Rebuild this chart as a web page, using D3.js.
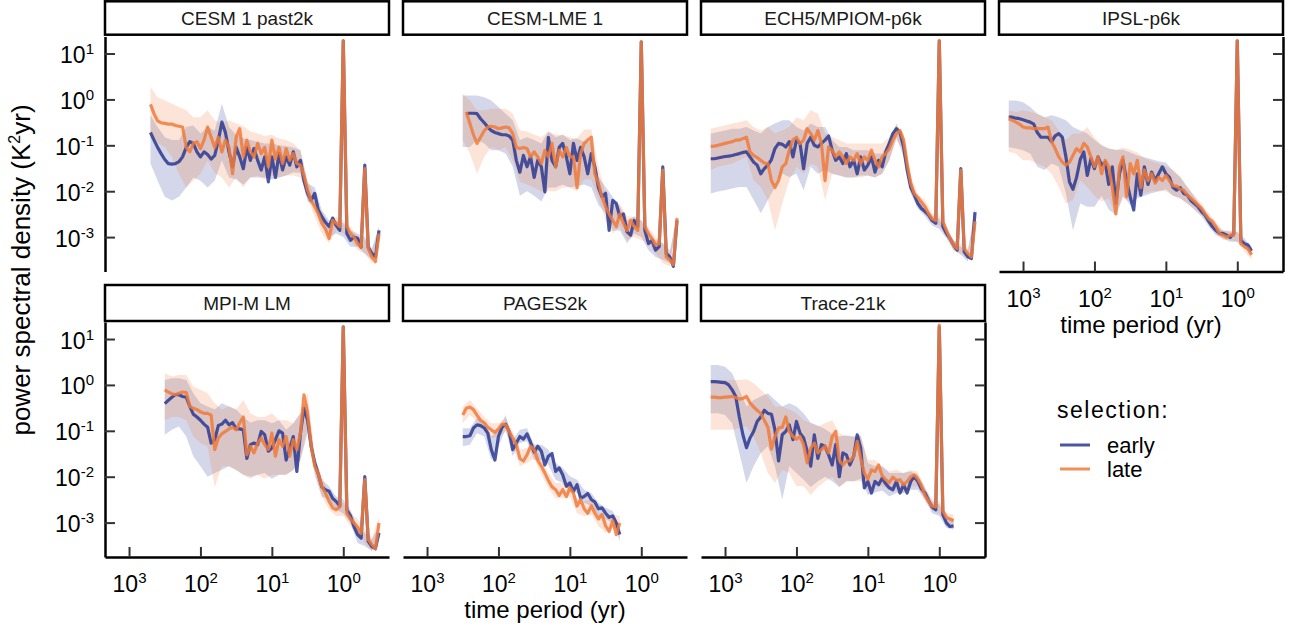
<!DOCTYPE html>
<html><head><meta charset="utf-8">
<script src="https://cdn.jsdelivr.net/npm/d3@7"></script>
<style>
body{margin:0;background:#fff;}
svg{display:block;font-family:"Liberation Sans",Arial,Helvetica,sans-serif;}
</style></head><body>
<svg id="chart" width="1297" height="636"></svg>
<script>
const _ = null;
const facets = ["CESM 1 past2k","CESM-LME 1","ECH5/MPIOM-p6k","IPSL-p6k","MPI-M LM","PAGES2k","Trace-21k"];
const seriesNames = ["early","late"];
const xTicks = [1000,100,10,1];
const yTicks = [10,1,0.1,0.01,0.001];

// time period (yr) of the spectral estimates
const period = [1585,1413,1259,1122,1000,891,794,708,631,562,
501,447,398,355,316,282,251,224,200,178,
158,141,126,112,100,89.1,79.4,70.8,63.1,56.2,
50.1,44.7,39.8,35.5,31.6,28.2,25.1,22.4,20.0,17.8,
15.8,14.1,12.6,11.2,10.0,8.91,7.94,7.08,6.31,5.62,
5.01,4.47,3.98,3.55,3.16,2.82,2.51,2.24,2.0,1.78,
1.58,1.41,1.26,1.12,1.0,0.891,0.794,0.708,0.631,0.562,
0.5,0.447,0.398,0.355,0.316];
// time period (yr) of the confidence band estimates
const ribbonPeriod = [1585,1259,1000,794,631,501,398,316,251,200,
158,126,100,79.4,63.1,50.1,39.8,31.6,25.1,20.0,
15.8,12.6,10.0,7.94,6.31,5.01,3.98,3.16,2.51,2.0,
1.58,1.26,1.0,0.794,0.631,0.5,0.398,0.316];

// ---- CESM 1 past2k ----
const cesm1_early = [_,_,_,_,_,_,_,_,_,_,
.19,.13,.09,.066,.049,.04,.039,.04,.044,.056,
.09,.12,.11,.072,.056,.072,.063,.05,.06,.13,
.32,.19,.072,.034,.09,.056,.031,.09,.047,.085,
.047,.029,.056,.016,.056,.02,.066,.029,.056,.037,
.072,.034,.047,.017,.009,.0063,.009,.0039,.0028,.0021,
.0017,.0026,.0018,.0014,19,.0012,.00085,.001,.00094,.0006,
.037,.0006,.00044,.00037,.0014];
const cesm1_late = [_,_,_,_,_,_,_,_,_,_,
.78,.49,.34,.31,.3,.29,.29,.27,.26,.25,
.09,.072,.11,.12,.085,.13,.25,.15,.09,.15,
.072,.13,.09,.024,.15,.23,.056,.13,.072,.056,
.11,.066,.09,.034,.13,.05,.09,.04,.085,.047,
.066,.04,.037,.022,.0105,.0063,.0046,.0032,.002,.0015,
.00093,.0023,.002,.0017,19,.0017,.0012,.001,.00072,.0006,
.031,.00056,.00037,.00029,.0012];
const cesm1_early_lo = [_,_,_,_,_,.04,.017,.0076,.0063,.0076,
.012,.02,.017,.012,.017,.047,.02,.018,.014,.02,
.02,.02,.018,.02,.022,.026,.025,.006,.005,.002,
.001,.0012,.001,.00062,.00062,.00044,.00032,.0012];
const cesm1_early_hi = [_,_,_,_,_,.45,.25,.15,.13,.13,
.25,.27,.18,.25,.21,.8,.25,.17,.14,.13,
.12,.11,.11,.1,.095,.09,.078,.015,.012,.0039,
.0023,.0023,.002,.0014,.0012,.001,.00057,.0017];
const cesm1_late_lo = [_,_,_,_,_,.18,.11,.092,.056,.024,
.012,.017,.024,.047,.025,.02,.012,.02,.012,.02,
.022,.018,.022,.02,.022,.022,.02,.0064,.0028,.0012,
.00073,.0014,.0012,.00086,.00052,.00044,.00027,.001];
const cesm1_late_hi = [_,_,_,_,_,1.86,1.12,.95,.8,.68,
.58,.41,.41,.58,.35,.3,.35,.3,.26,.2,
.18,.16,.17,.14,.13,.11,.078,.0173,.0075,.0033,
.002,.0028,.0023,.0017,.001,.00086,.00052,.0014];

// ---- CESM-LME 1 ----
const lme_early = [_,_,_,_,_,_,_,_,_,_,
_,_,_,_,_,.49,.5,.5,.49,.38,
.31,.25,.21,.19,.18,.17,.17,.16,.13,.047,
.026,.06,.034,.056,.02,.047,.034,.0097,.15,.047,
.034,.09,.11,.056,.024,.11,.047,.09,.056,.024,
.066,.034,.012,.0076,.009,.0014,.0063,.0054,.0028,.0032,
.0013,.0011,.0023,.0017,18,.0014,.00072,.00085,.00052,.00062,
.034,.00044,.00037,.00023,.0023];
const lme_late = [_,_,_,_,_,_,_,_,_,_,
_,_,_,_,_,.53,.3,.17,.11,.15,
.21,.25,.26,.25,.23,.24,.25,.24,.18,.09,
.085,.09,.085,.056,.072,.056,.04,.078,.056,.11,
.034,.078,.056,.09,.056,.056,.012,.066,.11,.13,
.15,.024,.015,.0076,.0046,.0032,.0023,.0017,.0032,.002,
.0014,.0023,.0017,.0014,18,.0017,.0012,.00093,.00067,.00072,
.029,.00037,.00032,.00025,.0026];
const lme_early_lo = [_,_,_,_,_,_,_,.092,.092,.13,
.11,.078,.078,.066,.034,.008,.01,.008,.006,.012,
.012,.014,.012,.013,.014,.012,.005,.0033,.0014,.0014,
.00073,.0012,.001,.00052,.00037,.00032,.00027,.002];
const lme_early_hi = [_,_,_,_,_,_,_,1.22,1.22,1.22,
1.12,.95,.68,.49,.35,.13,.15,.13,.11,.2,
.15,.17,.13,.14,.12,.12,.0205,.0124,.0075,.0046,
.0023,.0028,.0023,.0012,.00086,.00073,.00052,.0028];
const lme_late_lo = [_,_,_,_,_,_,_,.13,.066,.024,
.056,.092,.078,.092,.047,.016,.014,.012,.01,.01,
.01,.012,.012,.01,.018,.018,.007,.0023,.0012,.0017,
.00086,.001,.00086,.00073,.00044,.00027,.00023,.002];
const lme_late_hi = [_,_,_,_,_,_,_,1.33,.95,.58,
.58,.63,.63,.63,.49,.21,.2,.17,.15,.2,
.17,.17,.15,.14,.22,.22,.034,.0089,.0046,.0054,
.0028,.0028,.0023,.0017,.001,.00073,.00044,.003];

// ---- ECH5/MPIOM-p6k ----
const ech5_early = [.051,.051,.053,.055,.057,.058,.06,.063,.066,.07,
.072,.056,.043,.037,.024,.031,.037,.049,.085,.11,
.105,.092,.12,.056,.13,.11,.031,.11,.15,.1,
.092,.11,.13,.16,.078,.047,.056,.04,.066,.034,
.047,.024,.056,.029,.037,.056,.026,.047,.034,.072,
.11,.18,.23,.19,.092,.029,.012,.0083,.0054,.0042,
.0036,.003,.0023,.002,19,.0017,.0012,.00093,.00067,.00052,
.031,.00048,.00037,.00034,.0035];
const ech5_late = [.095,.096,.1,.105,.11,.115,.12,.13,.13,.14,
.15,.072,.06,.054,.047,.041,.04,.017,.012,.017,
.034,.04,.078,.13,.15,.11,.13,.23,.18,.13,
.21,.11,.017,.092,.078,.056,.072,.056,.04,.056,
.047,.066,.04,.056,.047,.078,.047,.034,.056,.066,
.085,.13,.18,.21,.13,.04,.015,.0089,.0073,.0058,
.0046,.0032,.0025,.0023,19,.0022,.0014,.00093,.00067,.00056,
.029,.00056,.00044,.00037,.0022];
const ech5_early_lo = [.0089,.0098,.0105,.0115,.0124,.0124,.0064,.0033,.0064,.0124,
.024,.0205,.024,.0105,.034,.024,.029,.024,.022,.02,
.02,.022,.022,.02,.024,.047,.15,.056,.0089,.0042,
.0028,.0018,.0015,.00093,.00052,.00041,.00029,.0028];
const ech5_early_hi = [.18,.195,.21,.23,.23,.25,.21,.18,.25,.3,
.35,.35,.25,.21,.3,.25,.25,.13,.092,.092,
.078,.078,.078,.066,.066,.13,.3,.13,.0173,.0069,
.0046,.003,.0025,.0015,.00086,.00062,.00048,.0046];
const ech5_late_lo = [.029,.034,.037,.04,.047,.056,.0173,.0124,.0064,.0014,
.0054,.0173,.034,.024,.04,.034,.0064,.024,.022,.02,
.02,.02,.022,.02,.024,.047,.13,.078,.0105,.0054,
.0033,.002,.0018,.0011,.00052,.00044,.00034,.0017];
const ech5_late_hi = [.23,.25,.27,.3,.32,.35,.25,.21,.25,.18,
.21,.25,.41,.35,.58,.49,.18,.15,.13,.11,
.11,.11,.11,.11,.11,.15,.27,.18,.0205,.0089,
.0064,.0033,.003,.0018,.00086,.00073,.00057,.0028];

// ---- IPSL-p6k ----
const ipsl_early = [.41,.41,.39,.38,.36,.34,.32,.29,.19,.15,
.15,.15,.12,.16,.18,.15,.056,.016,.011,.02,
.049,.072,.022,.051,.031,.056,.037,.043,.014,.034,
.0054,.024,.047,.017,.0076,.0039,.024,.0082,.034,.014,
.026,.017,.024,.034,.024,.02,.012,.0105,.012,.0089,
.0082,.0063,.0054,.0046,.0036,.003,.0022,.0017,.0014,.0012,
.0012,.0011,.00098,.0012,19,.00085,.00072,.00067,.0005,_,
_,_,_,_,_];
const ipsl_late = [.38,.35,.32,.29,.25,.24,.24,.23,.23,.23,
.23,.25,.12,.085,.056,.043,.037,.043,.06,.085,
.072,.11,.092,.056,.034,.056,.024,.047,.034,.012,
.0032,.034,.056,.0076,.04,.024,.047,.012,.029,.017,
.024,.015,.02,.017,.022,.017,.013,.013,.011,.0105,
.0082,.007,.006,.005,.0042,.0032,.0025,.0022,.0017,.0012,
.0011,.001,.0011,.0011,19,.00072,.00062,.00056,.00041,_,
_,_,_,_,_];
const ipsl_early_lo = [.092,.085,.078,.066,.034,.029,.04,.034,.0089,.0014,
.0054,.0046,.0046,.008,.004,.003,.008,.005,.007,.008,
.009,.01,.011,.008,.007,.0054,.0039,.0028,.0017,.0011,
.00093,.00079,.00079,.00057,.00041,_,_,_];
const ipsl_early_hi = [.95,.95,.87,.68,.49,.41,.45,.41,.35,.25,
.21,.18,.13,.1,.085,.08,.08,.07,.06,.055,
.05,.045,.042,.028,.0205,.0124,.0075,.0046,.0028,.0018,
.0014,.0013,.0013,.00093,.00062,_,_,_];
const ipsl_late_lo = [.072,.066,.047,.047,.04,.034,.024,.0124,.0054,.0064,
.0173,.0124,.008,.006,.007,.003,.007,.006,.008,.009,
.01,.01,.01,.008,.007,.0054,.0042,.003,.002,.0013,
.00086,.00086,.00079,.00048,.00032,_,_,_];
const ipsl_late_hi = [.58,.53,.58,.53,.49,.41,.35,.21,.13,.18,
.18,.25,.15,.1,.085,.078,.09,.08,.07,.052,
.045,.04,.035,.029,.0205,.0124,.0082,.0054,.0033,.0022,
.0014,.0014,.0013,.00079,.00052,_,_,_];

// ---- MPI-M LM ----
const mpi_early = [_,_,_,_,_,_,_,_,_,_,
_,_,_,_,.39,.46,.54,.61,.61,.56,
.54,.34,.23,.2,.17,.14,.12,.054,.064,.13,
.14,.17,.135,.15,.11,.11,.105,.025,.05,.054,
.05,.097,.082,.036,.042,.064,.1,.089,.023,.042,
.075,.013,.089,.31,.17,.046,.02,.0115,.006,.0052,
.0048,.0034,.0029,.0023,18.5,.0019,.0014,.00082,.00055,.00046,
.01,.00039,.0003,.00027,.0006];
const mpi_late = [_,_,_,_,_,_,_,_,_,_,
_,_,_,_,.78,.7,.64,.61,.66,.7,
.68,.34,.31,.29,.26,.24,.24,.22,.039,.07,
.086,.097,.11,.12,.105,.15,.2,.03,.046,.033,
.054,.07,.05,.039,.089,.028,.064,.046,.075,.028,
.064,.039,.089,.61,.24,.046,.017,.0115,.0062,.0044,
.0029,.0021,.0019,.0022,18.5,.0016,.0012,.00098,.0008,.00058,
.0086,.00043,.00033,.00027,.00098];
const mpi_early_lo = [_,_,_,_,_,_,_,.082,.105,.124,
.075,.028,.0168,.01,.012,.0142,.0168,.014,.011,.01,
.011,.012,.009,.011,.011,.014,.023,.089,.012,.0037,
.0032,.0019,.0016,.00098,.00036,.00031,.00024,.0005];
const mpi_early_hi = [_,_,_,_,_,_,_,1.28,1.4,1.4,
1.28,.66,.4,.34,.29,.4,.34,.29,.2,.15,
.17,.17,.147,.17,.105,.147,.24,.4,.028,.0086,
.0062,.0037,.0032,.0019,.00083,.0006,.00043,.00083];
const mpi_late_lo = [_,_,_,_,_,_,_,.17,.2,.2,
.17,.075,.054,.046,.006,.0168,.0168,.014,.011,.009,
.011,.009,.011,.011,.011,.014,.023,.124,.0102,.0037,
.0019,.0014,.0014,.00083,.00055,.00036,.00024,.00077];
const mpi_late_hi = [_,_,_,_,_,_,_,1.8,1.52,1.65,
1.65,.92,.78,.66,.4,.29,.34,.29,.47,.24,
.2,.2,.24,.17,.17,.147,.24,.66,.028,.0102,
.0044,.0027,.0027,.0016,.0012,.0007,.00046,.0013];

// ---- PAGES2k ----
const pages_early = [_,_,_,_,_,_,_,_,_,_,
_,_,_,_,.075,.075,.078,.115,.135,.13,
.115,.089,.039,.023,.075,.12,.14,.097,.039,.054,
.075,.066,.086,.056,.034,.046,.036,.018,.028,.032,
.013,.0155,.011,.0062,.0073,.0048,.0067,.0034,.0037,.0043,
.0032,.0028,.002,.0021,.0016,.0013,.0014,.00098,.00055,_,
_,_,_,_,_,_,_,_,_,_,
_,_,_,_,_];
const pages_late = [_,_,_,_,_,_,_,_,_,_,
_,_,_,_,.22,.31,.33,.29,.22,.17,
.15,.12,.105,.092,.11,.14,.135,.097,.07,.05,
.025,.022,.03,.046,.039,.023,.017,.012,.0083,.006,
.0052,.0039,.0052,.0037,.0057,.0044,.0023,.0032,.002,.0016,
.0023,.0016,.0012,.0015,.00085,.00064,.0011,.00055,.00098,_,
_,_,_,_,_,_,_,_,_,_,
_,_,_,_,_];
const pages_early_lo = [_,_,_,_,_,_,_,.046,.05,.089,
.075,.023,.046,.105,.028,.054,.059,.023,.023,.018,
.0086,.0073,.0048,.0044,.0027,.0023,.0014,.0012,.00098,.00039,
_,_,_,_,_,_,_,_];
const pages_early_hi = [_,_,_,_,_,_,_,.114,.114,.19,
.16,.075,.105,.22,.064,.105,.114,.05,.05,.039,
.0198,.0154,.0102,.0086,.0052,.0044,.0027,.0021,.0018,.00077,
_,_,_,_,_,_,_,_];
const pages_late_lo = [_,_,_,_,_,_,_,.147,.22,.16,
.105,.069,.075,.097,.046,.0168,.0198,.025,.011,.0057,
.0034,.0034,.0037,.0016,.0014,.0015,.00083,.0006,.00077,.0007,
_,_,_,_,_,_,_,_];
const pages_late_hi = [_,_,_,_,_,_,_,.34,.47,.31,
.2,.147,.147,.19,.097,.039,.042,.054,.023,.012,
.0073,.0073,.0079,.0034,.0029,.0032,.0016,.0013,.0015,.0014,
_,_,_,_,_,_,_,_];

// ---- Trace-21k ----
const trace_early = [1.18,1.18,1.16,1.14,1.12,1.0,.78,.56,.2,.082,
.043,.07,.097,.16,.2,.28,.24,.23,.105,.022,
.082,.097,.135,.064,.16,.089,.07,.036,.017,.082,
.025,.05,.046,.03,.018,.05,.01,.033,.03,.018,
.028,.082,.042,.0057,.0079,.0044,.0079,.0067,.0093,.007,
.0057,.0052,.0079,.0044,.0067,.0044,.0079,.01,.0079,.0054,
.0044,.003,.0022,.0019,18.5,.0015,.00098,.00082,.00085,_,
_,_,_,_,_];
const trace_late = [.54,.54,.53,.53,.54,.55,.56,.53,.49,.51,
.56,.41,.33,.28,.24,.17,.12,.04,.075,.115,
.12,.2,.097,.075,.066,.075,.05,.02,.042,.054,
.033,.039,.046,.033,.075,.097,.023,.018,.022,.022,
.028,.059,.025,.012,.0089,.014,.013,.018,.0105,.0086,
.0075,.0098,.0083,.0086,.0067,.0079,.01,.011,.0089,.0064,
.0039,.0029,.0023,.0022,20,.0018,.0013,.0012,.0011,_,
_,_,_,_,_];
const trace_early_lo = [.24,.24,.22,.147,.033,.0073,.0168,.033,.046,.0168,
.0032,.0168,.012,.0086,.006,.008,.01,.008,.006,.008,
.008,.009,.004,.0045,.005,.0037,.0044,.0044,.0052,.0052,
.0032,.0016,.0014,.00077,.0007,_,_,_];
const trace_early_hi = [2.72,2.72,2.5,1.8,.78,.34,.47,.56,.66,.47,
.34,.4,.34,.24,.15,.13,.11,.085,.075,.08,
.075,.08,.02,.0168,.0168,.012,.012,.012,.013,.011,
.0057,.0029,.0025,.0013,.0012,_,_,_];
const trace_late_lo = [.105,.105,.105,.105,.114,.124,.075,.033,.012,.0073,
.0142,.012,.0062,.0062,.004,.006,.008,.01,.006,.008,
.008,.008,.005,.0062,.0062,.0052,.0052,.0044,.0062,.0062,
.0029,.0018,.0016,.00098,.0009,_,_,_];
const trace_late_hi = [1.28,1.28,1.28,1.28,1.28,1.33,1.09,.78,.56,.34,
.34,.29,.24,.17,.147,.124,.147,.17,.089,.075,
.075,.075,.023,.023,.0168,.013,.0142,.012,.0142,.013,
.0057,.0032,.0029,.0016,.0015,_,_,_];

const panels = [
  {name:facets[0], early:cesm1_early, late:cesm1_late, eLo:cesm1_early_lo, eHi:cesm1_early_hi, lLo:cesm1_late_lo, lHi:cesm1_late_hi},
  {name:facets[1], early:lme_early, late:lme_late, eLo:lme_early_lo, eHi:lme_early_hi, lLo:lme_late_lo, lHi:lme_late_hi},
  {name:facets[2], early:ech5_early, late:ech5_late, eLo:ech5_early_lo, eHi:ech5_early_hi, lLo:ech5_late_lo, lHi:ech5_late_hi},
  {name:facets[3], early:ipsl_early, late:ipsl_late, eLo:ipsl_early_lo, eHi:ipsl_early_hi, lLo:ipsl_late_lo, lHi:ipsl_late_hi},
  {name:facets[4], early:mpi_early, late:mpi_late, eLo:mpi_early_lo, eHi:mpi_early_hi, lLo:mpi_late_lo, lHi:mpi_late_hi},
  {name:facets[5], early:pages_early, late:pages_late, eLo:pages_early_lo, eHi:pages_early_hi, lLo:pages_late_lo, lHi:pages_late_hi},
  {name:facets[6], early:trace_early, late:trace_late, eLo:trace_early_lo, eHi:trace_early_hi, lLo:trace_late_lo, lHi:trace_late_hi}
];

// ---- layout / style ----
const colors = {early:"#2A3890", late:"#F07A3A"};
const colLeft = [105, 403, 701, 999];
const rowTop = [36.5, 322];
const stripY = [1.3, 285];
const stripH = [33.4, 36];
const pw = 284, ph = 235;
const svg = d3.select("#chart");
const defs = svg.append("defs");

const x = d3.scaleLog().domain([2170, 0.229]).range([0, pw]);
const y = d3.scaleLog().domain([1.78e-4, 23.5]).range([ph, 0]);

const line = d3.line().defined(d => d.v != null).x(d => x(d.p)).y(d => y(d.v));
const area = d3.area().defined(d => d.lo != null && d.hi != null)
  .x(d => x(d.p)).y0(d => y(d.lo)).y1(d => y(d.hi));

function styleAxis(a){
  a.attr("font-family", null).attr("font-size", 23);
  a.select(".domain").attr("stroke", "#000").attr("stroke-width", 2.5);
  a.selectAll(".tick line").attr("stroke", "#333").attr("stroke-width", 2);
}
function supLabels(sel){
  sel.each(function(d){
    const t = d3.select(this);
    const e = Math.round(Math.log10(d));
    t.text(null).attr("fill", "#000");
    t.append("tspan").text("10");
    t.append("tspan").attr("dy", -9).attr("font-size", 15).text(String(e));
  });
}

panels.forEach((pn, i) => {
  const c = i % 4, r = Math.floor(i / 4);
  const g = svg.append("g").attr("transform", `translate(${colLeft[c]},${rowTop[r]})`);
  const cid = "clip" + i;
  defs.append("clipPath").attr("id", cid).append("rect")
    .attr("x", 0).attr("y", 0).attr("width", pw).attr("height", ph);
  const plot = g.append("g").attr("clip-path", `url(#${cid})`);

  const ribData = (lo, hi) => ribbonPeriod.map((p, k) => ({p, lo: lo[k], hi: hi[k]}));
  const lineData = s => period.map((p, k) => ({p, v: s[k]}));

  plot.append("path").datum(ribData(pn.eLo, pn.eHi)).attr("d", area)
    .attr("fill", colors.early).attr("fill-opacity", 0.2);
  plot.append("path").datum(ribData(pn.lLo, pn.lHi)).attr("d", area)
    .attr("fill", colors.late).attr("fill-opacity", 0.2);
  [["early", pn.early], ["late", pn.late]].forEach(([k, s]) => {
    plot.append("path").datum(lineData(s)).attr("d", line)
      .attr("fill", "none").attr("stroke", colors[k]).attr("stroke-width", 3.2)
      .attr("stroke-opacity", 0.85).attr("stroke-linejoin", "round");
  });

  // strip
  const sy = stripY[r] - rowTop[r];
  g.append("rect").attr("x", 0).attr("y", sy).attr("width", pw).attr("height", stripH[r])
    .attr("fill", "#fff").attr("stroke", "#000").attr("stroke-width", 2.5);
  g.append("text").attr("x", pw / 2).attr("y", sy + stripH[r] / 2 + 6.5)
    .attr("text-anchor", "middle").attr("font-size", 19).attr("fill", "#1a1a1a").text(pn.name);

  // axes
  if (c === 0) {
    g.append("g").call(d3.axisLeft(y).tickValues(yTicks).tickSize(-10).tickSizeOuter(0))
      .call(styleAxis)
      .call(a => a.selectAll(".tick text").attr("x", -11).attr("dy", null).attr("y", 9).call(supLabels));
  }
  if (i >= 3) {
    g.append("g").attr("transform", `translate(0,${ph})`)
      .call(d3.axisBottom(x).tickValues(xTicks).tickSize(-10).tickSizeOuter(0))
      .call(styleAxis)
      .call(a => a.selectAll(".tick text").attr("y", 35).attr("dy", null).call(supLabels));
  }
  if (i === 3 || i === 6) {
    g.append("g").attr("transform", `translate(${pw},0)`)
      .call(d3.axisRight(y).tickValues(yTicks).tickSize(-10).tickSizeOuter(0).tickFormat(""))
      .call(styleAxis);
  }
  if (i === 3 || i === 5) {
    g.append("text").attr("x", pw / 2).attr("y", ph + 61).attr("text-anchor", "middle")
      .attr("font-size", 24).attr("fill", "#000").text("time period (yr)");
  }
});

// y axis title
const yt = svg.append("text").attr("transform", "translate(30,270) rotate(-90)")
  .attr("text-anchor", "middle").attr("font-size", 26).attr("fill", "#000");
yt.append("tspan").text("power spectral density (K");
yt.append("tspan").attr("dy", -10).attr("font-size", 16).text("2");
yt.append("tspan").attr("dy", 10).text("yr)");

// legend
const lg = svg.append("g");
lg.append("text").attr("x", 1057).attr("y", 418).attr("font-size", 23)
  .attr("letter-spacing", 1.5).attr("fill", "#000").text("selection:");
seriesNames.forEach((k, j) => {
  const yy = 445 + j * 24;
  lg.append("line").attr("x1", 1060).attr("x2", 1090).attr("y1", yy).attr("y2", yy)
    .attr("stroke", colors[k]).attr("stroke-width", 3).attr("stroke-opacity", 0.85);
  lg.append("text").attr("x", 1107).attr("y", yy + 8).attr("font-size", 22).attr("fill", "#000").text(k);
});
</script>
</body></html>
